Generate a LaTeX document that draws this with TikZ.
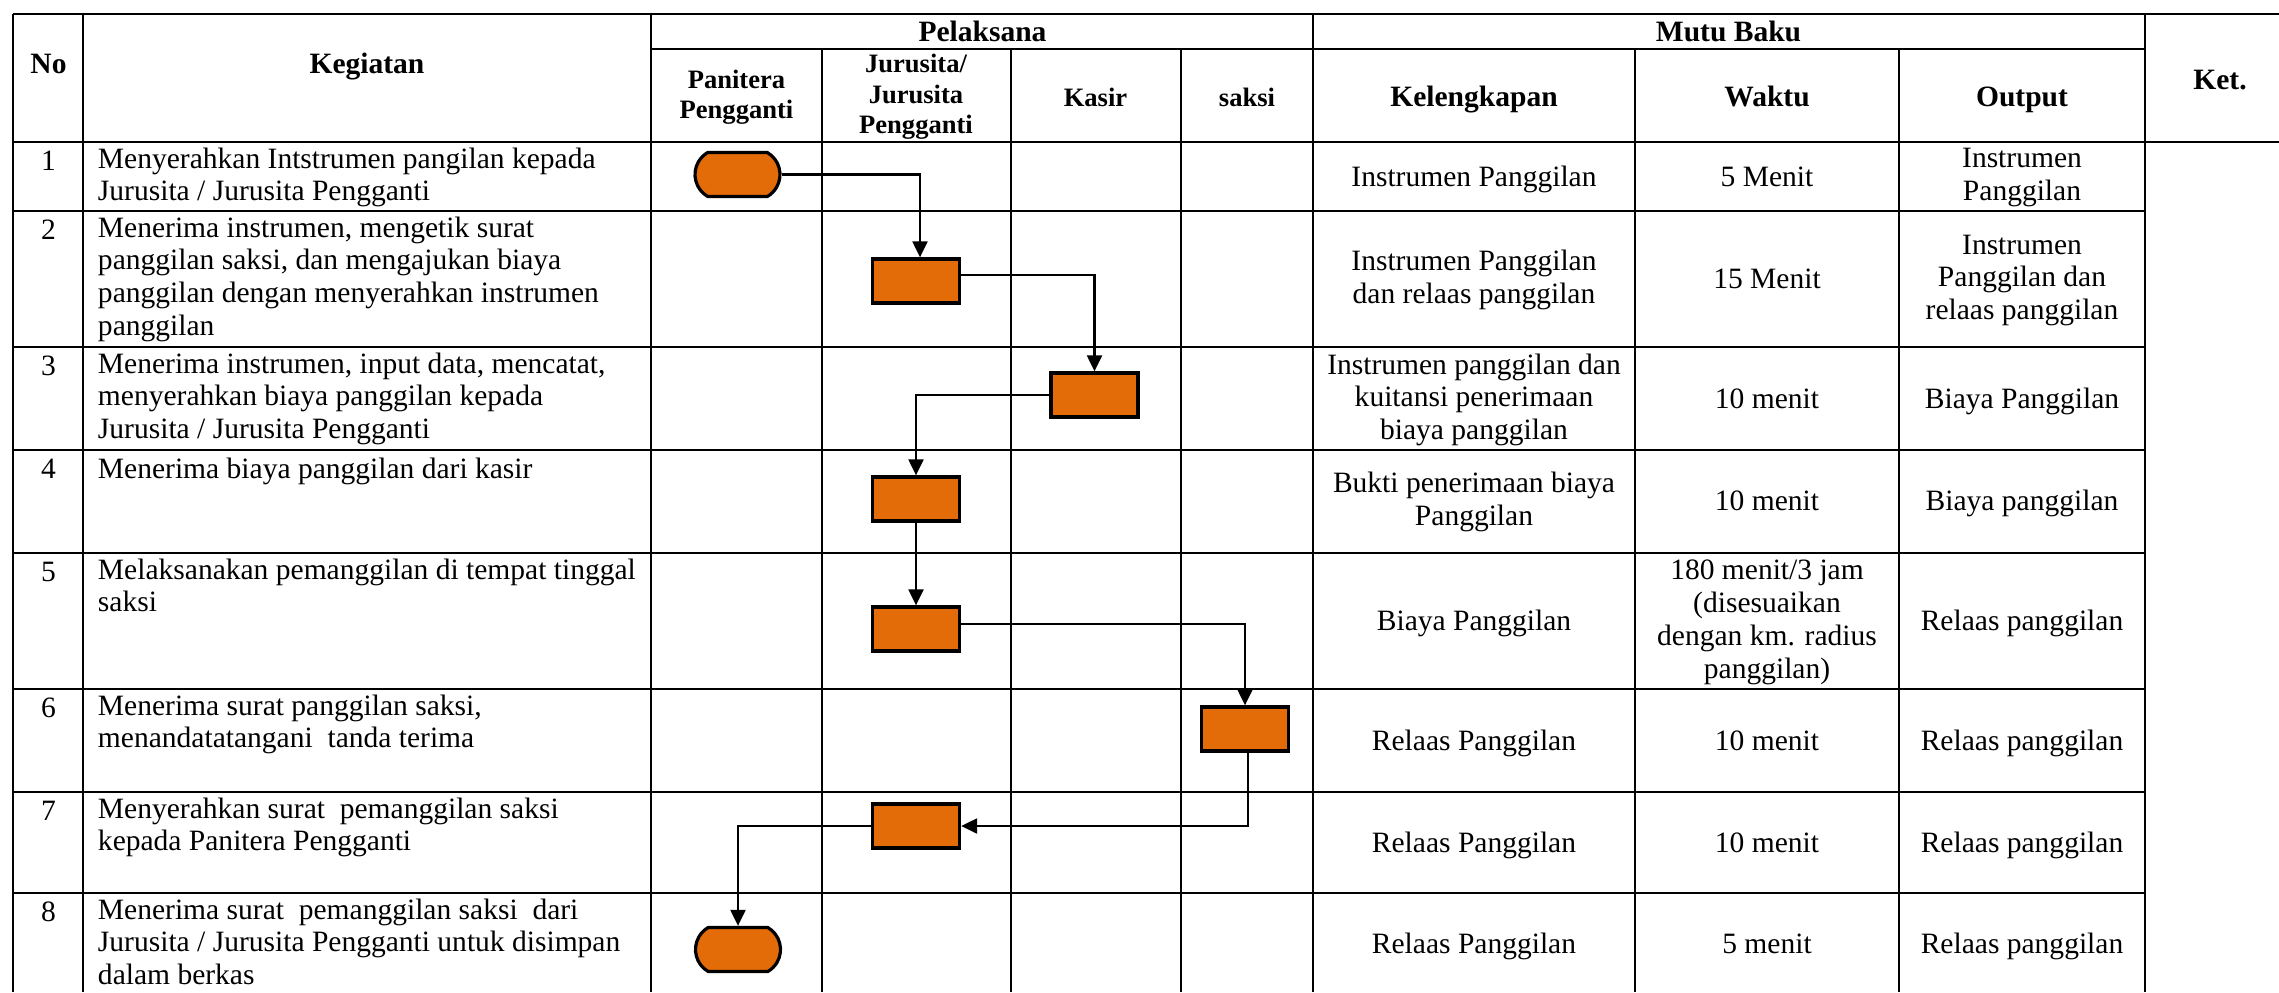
\documentclass[tikz,border=0pt]{standalone}
\usepackage{fontspec}
\setmainfont{Liberation Serif}
\usetikzlibrary{arrows.meta,shapes.misc}
\newdimen\pxu \pxu=0.4065pt
\definecolor{flow}{HTML}{E36C09}
\tikzset{
  grid/.style={line width=0.65pt, black},
  body/.style={font=\fontsize{12}{13.3}\selectfont, inner sep=0pt,
    execute at begin node=\strut, execute at end node=\strut},
  kg/.style={body, anchor=north west, align=left},
  num/.style={body, anchor=north, align=center},
  mb/.style={body, anchor=center, align=center},
  hd/.style={font=\bfseries\fontsize{12}{13.3}\selectfont, inner sep=0pt, anchor=center, align=center,
    execute at begin node=\strut, execute at end node=\strut},
  hs/.style={font=\bfseries\fontsize{10.8}{12.3}\selectfont, inner sep=0pt, anchor=center, align=center,
    execute at begin node=\strut, execute at end node=\strut},
  proc/.style={rectangle, draw=black, line width=1.3pt, fill=flow,
    minimum width=87\pxu, minimum height=44\pxu, inner sep=0pt},
  term/.style={rounded rectangle, rounded rectangle arc length=120, draw=black, line width=1.3pt, fill=flow,
    minimum width=85\pxu, minimum height=44\pxu, inner sep=0pt},
  conn/.style={line width=1.1pt, -{Triangle[length=6.5pt,width=6pt]}},
}
\begin{document}
\begin{tikzpicture}[x=0.4065pt, y=-0.4065pt]
\useasboundingbox (0,0) rectangle (2279,992);
\fill[white] (0,0) rectangle (2279,992);
% ---- grid ----
\foreach \x in {13,83,651,1313,2145} \draw[grid] (\x,14) -- (\x,992);
\foreach \x in {822,1011,1181,1635,1899} \draw[grid] (\x,49) -- (\x,992);
\draw[grid] (13,14) -- (2279,14);
\draw[grid] (651,49) -- (2145,49);
\draw[grid] (13,142) -- (2279,142);
\foreach \y in {211,347,450,553,689,792,893} \draw[grid] (13,\y) -- (2145,\y);
% ---- headers ----
\node[hd] (hno) at (48.5,66.8) {No};
\node[hd] (hkeg) at (367,66.8) {Kegiatan};
\node[hd] (hpel) at (982.5,35.2) {Pelaksana};
\node[hd] (hmb) at (1728.5,35.2) {Mutu Baku};
\node[hd] (hket) at (2220,82.8) {Ket.};
\node[hs] (hpp) at (736.5,99) {Panitera\\Pengganti};
\node[hs] (hjs) at (916,98.5) {Jurusita/\\Jurusita\\Pengganti};
\node[hs] (hks) at (1095.5,100) {Kasir};
\node[hs] (hsk) at (1247,100) {saksi};
\node[hd] (hkl) at (1474,100) {Kelengkapan};
\node[hd] (hwk) at (1767,100) {Waktu};
\node[hd] (hop) at (2022,100) {Output};
% ---- numbers ----
\node[num] (n1) at (48.5,147.1) {1};
\node[num] (n2) at (48.5,216.1) {2};
\node[num] (n3) at (48.5,352.1) {3};
\node[num] (n4) at (48.5,455.1) {4};
\node[num] (n5) at (48.5,558.1) {5};
\node[num] (n6) at (48.5,694.1) {6};
\node[num] (n7) at (48.5,797.1) {7};
\node[num] (n8) at (48.5,898.1) {8};
% ---- kegiatan ----
\node[kg] (k1) at (97.5,147.1) {Menyerahkan Intstrumen pangilan kepada\\Jurusita / Jurusita Pengganti};
\node[kg] (k2) at (97.5,216.1) {Menerima instrumen, mengetik surat\\panggilan saksi, dan mengajukan biaya\\panggilan dengan menyerahkan instrumen\\panggilan};
\node[kg] (k3) at (97.5,352.1) {Menerima instrumen, input data, mencatat,\\menyerahkan biaya panggilan kepada\\Jurusita / Jurusita Pengganti};
\node[kg] (k4) at (97.5,455.1) {Menerima biaya panggilan dari kasir};
\node[kg] (k5) at (97.5,558.1) {Melaksanakan pemanggilan di tempat tinggal\\saksi};
\node[kg] (k6) at (97.5,694.1) {Menerima surat panggilan saksi,\\menandatatangani\ \ tanda terima};
\node[kg] (k7) at (97.5,797.1) {Menyerahkan surat\ \ pemanggilan saksi\\kepada Panitera Pengganti};
\node[kg] (k8) at (97.5,898.1) {Menerima surat\ \ pemanggilan saksi\ \ dari\\Jurusita / Jurusita Pengganti untuk disimpan\\dalam berkas};
% ---- mutu baku ----
\node[mb] (kl1) at (1474,179.5) {Instrumen Panggilan};
\node[mb] (wk1) at (1767,179.5) {5 Menit};
\node[mb] (op1) at (2022,179.5) {Instrumen\\Panggilan};
\node[mb] (kl2) at (1474,282) {Instrumen Panggilan\\dan relaas panggilan};
\node[mb] (wk2) at (1767,282) {15 Menit};
\node[mb] (op2) at (2022,282) {Instrumen\\Panggilan dan\\relaas panggilan};
\node[mb] (kl3) at (1474,401.5) {Instrumen panggilan dan\\kuitansi penerimaan\\biaya panggilan};
\node[mb] (wk3) at (1767,401.5) {10 menit};
\node[mb] (op3) at (2022,401.5) {Biaya Panggilan};
\node[mb] (kl4) at (1474,504) {Bukti penerimaan biaya\\Panggilan};
\node[mb] (wk4) at (1767,504) {10 menit};
\node[mb] (op4) at (2022,504) {Biaya panggilan};
\node[mb] (kl5) at (1474,624) {Biaya Panggilan};
\node[mb] (wk5) at (1767,624) {180 menit/3 jam\\(disesuaikan\\dengan km. radius\\panggilan)};
\node[mb] (op5) at (2022,624) {Relaas panggilan};
\node[mb] (kl6) at (1474,743.5) {Relaas Panggilan};
\node[mb] (wk6) at (1767,743.5) {10 menit};
\node[mb] (op6) at (2022,743.5) {Relaas panggilan};
\node[mb] (kl7) at (1474,845.5) {Relaas Panggilan};
\node[mb] (wk7) at (1767,845.5) {10 menit};
\node[mb] (op7) at (2022,845.5) {Relaas panggilan};
\node[mb] (kl8) at (1474,947) {Relaas Panggilan};
\node[mb] (wk8) at (1767,947) {5 menit};
\node[mb] (op8) at (2022,947) {Relaas panggilan};
% ---- flow shapes ----
\node[term] (t1) at (737.5,174.5) {};
\node[proc] (b2) at (916,281) {};
\node[proc] (b3) at (1094.5,395) {};
\node[proc] (b4) at (916,499) {};
\node[proc] (b5) at (916,629) {};
\node[proc] (b6) at (1245,729) {};
\node[proc] (b7) at (916,826) {};
\node[term] (t8) at (738,949.5) {};
% ---- connectors ----
\draw[conn] (t1.east) -| ([xshift=4\pxu]b2.north);
\draw[conn] ([yshift=6\pxu]b2.east) -| (b3.north);
\draw[conn] (b3.west) -| (b4.north);
\draw[conn] (b4.south) -- (b5.north);
\draw[conn] ([yshift=5\pxu]b5.east) -| (b6.north);
\draw[conn] ([xshift=3\pxu]b6.south) |- (b7.east);
\draw[conn] (b7.west) -| (t8.north);
\end{tikzpicture}
\end{document}
